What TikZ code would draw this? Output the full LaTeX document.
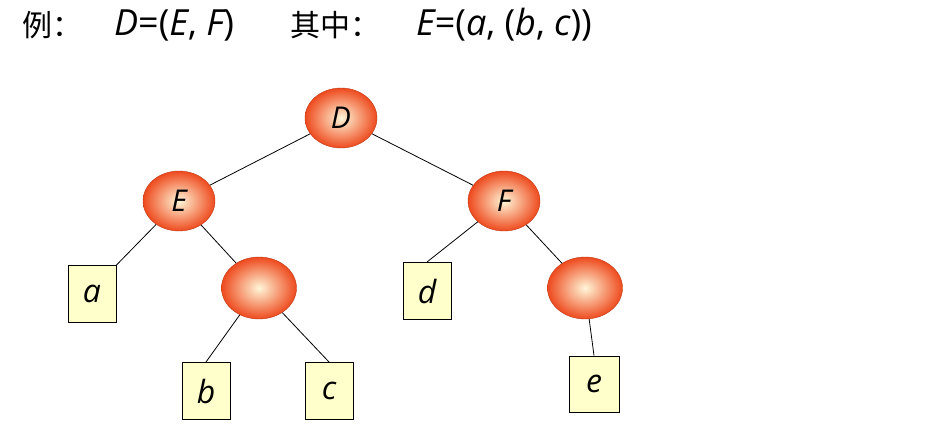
\documentclass[tikz,border=0pt]{standalone}
\usepackage{fontspec}
\setmainfont{Open Sans}
\newfontfamily\cjk{Noto Sans CJK SC}
\usetikzlibrary{shapes.geometric}
\definecolor{ballout}{HTML}{EE4A1E}
\definecolor{ballin}{HTML}{FFF6D8}
\definecolor{boxfill}{HTML}{FFFFCC}
\tikzset{
 ball/.style={ellipse,minimum width=72pt,minimum height=60pt,inner sep=0pt,
   draw=ballout!80!black,line width=0.4pt,inner color=ballin,outer color=ballout,
   font=\fontsize{30}{32}\selectfont\itshape},
 leaf/.style={rectangle,draw=black,line width=1pt,fill=boxfill,minimum width=48pt,
   minimum height=57pt,inner sep=0pt,font=\fontsize{32}{34}\selectfont\itshape},
 edge/.style={draw=black,line width=0.8pt},
 title/.style={anchor=west,inner sep=0pt,font=\fontsize{36}{38}\selectfont},
 ctitle/.style={anchor=west,inner sep=0pt,font=\fontsize{30}{32}\selectfont\cjk}
}
\begin{document}
\begin{tikzpicture}[x=1pt,y=-1pt]
\useasboundingbox[fill=white] (0,0) rectangle (928,447);
\node[ctitle] (t1) at (22,25) {例：};
\node[title] (t2) at (114,25) {\itshape D\upshape=(\itshape E\upshape, \itshape F\upshape)};
\node[ctitle] (t3) at (290,25) {其中：};
\node[title] (t4) at (416,25) {\itshape E\upshape=(\itshape a\upshape, (\itshape b\upshape, \itshape c\upshape))};
\node[ball] (D) at (341,118) {D};
\node[ball] (E) at (179,201) {E};
\node[ball] (F) at (504,201) {F};
\node[ball,minimum width=75pt,minimum height=62pt] (G) at (259,288) {};
\node[ball,minimum width=75pt,minimum height=62pt] (H) at (585,288) {};
\node[leaf] (a) at (92,294) {a};
\node[leaf] (d) at (427,291) {d};
\node[leaf] (b) at (206,391) {b};
\node[leaf] (c) at (329,391) {c};
\node[leaf,minimum width=50pt,minimum height=56pt] (e) at (594,384) {e};
\draw[edge] (D) -- (E);
\draw[edge] (D) -- (F);
\draw[edge] (E) -- (a.north east);
\draw[edge] (E) -- (G);
\draw[edge] (G) -- (b.north);
\draw[edge] (G) -- (c.north);
\draw[edge] (F) -- (d.north);
\draw[edge] (F) -- (H);
\draw[edge] (H) -- (e.north);
\end{tikzpicture}
\end{document}
